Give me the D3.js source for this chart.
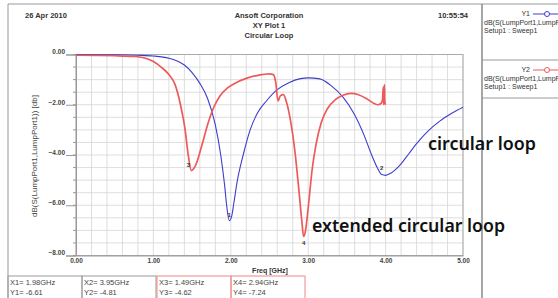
<!DOCTYPE html>
<html>
<head>
<meta charset="utf-8">
<script src="https://cdnjs.cloudflare.com/ajax/libs/d3/7.8.5/d3.min.js"></script>
<style>
  body { margin: 0; background: #fff; }
  svg { display: block; font-family: "Liberation Sans", Arial, sans-serif; }
</style>
</head>
<body>
<div id="chart"></div>
<script>
// S11 curves
var freqY1 = [0.0, 0.5, 0.8, 1.0, 1.2, 1.3, 1.4, 1.5, 1.6, 1.7, 1.8, 1.87, 1.92, 1.95, 1.98, 2.01, 2.04, 2.08, 2.16, 2.25, 2.35, 2.46, 2.6, 2.75, 2.9, 3.0, 3.15, 3.3, 3.45, 3.6, 3.72, 3.82, 3.9, 3.95, 4.0, 4.06, 4.12, 4.2, 4.3, 4.4, 4.5, 4.6, 4.7, 4.85, 5.0];
var dbY1 = [0.0, -0.01, -0.03, -0.06, -0.15, -0.25, -0.42, -0.72, -1.15, -1.75, -2.8, -4.0, -5.2, -6.1, -6.61, -6.45, -5.9, -5.1, -4.0, -3.0, -2.3, -1.85, -1.4, -1.12, -0.96, -0.93, -0.97, -1.25, -1.7, -2.4, -3.2, -4.0, -4.55, -4.78, -4.81, -4.74, -4.6, -4.35, -3.95, -3.55, -3.2, -2.9, -2.65, -2.35, -2.1];

var freqY2 = [0.0, 0.5, 0.75, 0.9, 1.0, 1.1, 1.2, 1.28, 1.35, 1.41, 1.45, 1.49, 1.52, 1.56, 1.6, 1.65, 1.7, 1.78, 1.86, 1.95, 2.05, 2.2, 2.35, 2.5, 2.55, 2.58, 2.61, 2.64, 2.68, 2.72, 2.77, 2.83, 2.88, 2.92, 2.94, 2.96, 3.0, 3.05, 3.1, 3.17, 3.25, 3.35, 3.45, 3.55, 3.65, 3.75, 3.85, 3.9, 3.94, 3.96, 3.97, 3.975, 3.985, 3.99, 4.0];
var dbY2 = [-0.03, -0.05, -0.08, -0.15, -0.28, -0.5, -0.8, -1.2, -2.0, -3.0, -4.0, -4.62, -4.55, -4.3, -3.9, -3.35, -2.8, -2.1, -1.65, -1.35, -1.15, -0.95, -0.83, -0.77, -0.8, -1.1, -1.85, -1.65, -1.6, -1.9, -2.6, -3.9, -5.4, -6.7, -7.24, -7.1, -6.1, -4.6, -3.6, -2.7, -2.15, -1.8, -1.62, -1.55, -1.6, -1.75, -1.95, -2.0, -1.95, -1.8, -1.3, -2.0, -1.2, -1.9, -2.0];

var markerNames = ["1", "2", "3", "4"];
var markerFreq = [1.98, 3.95, 1.49, 2.94];
var markerDb = [-6.61, -4.81, -4.62, -7.24];

var xTicks = [0, 1, 2, 3, 4, 5];
var yTicks = [-8, -6, -4, -2, 0];

var legendNames = ["Y1", "Y2"];
var traceName = "dB(S(LumpPort1,LumpPort1))";
var sweepName = "Setup1 : Sweep1";

var W = 558, H = 298;
var blue = "#3d3dcc", red = "#ee5a5a";

var svg = d3.select("#chart").append("svg")
    .attr("width", W)
    .attr("height", H);

var x = d3.scaleLinear().domain([0, 5]).range([76, 463]);
var y = d3.scaleLinear().domain([-8, 0]).range([255.5, 54.5]);

// outer frame
svg.append("line").attr("x1", 8).attr("y1", 4).attr("x2", W).attr("y2", 4).attr("stroke", "#999");
svg.append("line").attr("x1", 8).attr("y1", 4).attr("x2", 8).attr("y2", H).attr("stroke", "#999");
svg.append("line").attr("x1", 482).attr("y1", 4).attr("x2", 482).attr("y2", H).attr("stroke", "#888").attr("stroke-width", 1.5);
svg.append("line").attr("x1", 482).attr("y1", 60).attr("x2", W).attr("y2", 60).attr("stroke", "#999");
svg.append("line").attr("x1", 482).attr("y1", 98).attr("x2", W).attr("y2", 98).attr("stroke", "#999");

// header
svg.append("text").attr("x", 25).attr("y", 18).attr("font-size", 7.5).attr("font-weight", "bold").attr("fill", "#333").text("26 Apr 2010");
svg.append("text").attr("x", 468).attr("y", 18).attr("text-anchor", "end").attr("font-size", 7.5).attr("font-weight", "bold").attr("fill", "#333").text("10:55:54");
["Ansoft Corporation", "XY Plot 1", "Circular Loop"].forEach(function(t, i) {
  svg.append("text").attr("x", 269).attr("y", 18 + i * 10).attr("text-anchor", "middle")
    .attr("font-size", 7.5).attr("font-weight", "bold").attr("fill", "#333").text(t);
});

// grid
var grid = svg.append("g").attr("stroke", "#d6d6d6").attr("stroke-width", 0.8);
grid.selectAll(".vg").data(d3.range(0, 5.01, 0.2)).enter().append("line")
    .attr("x1", function(d) { return x(d); }).attr("x2", function(d) { return x(d); })
    .attr("y1", y(0)).attr("y2", y(-8));
grid.selectAll(".hg").data(d3.range(-8, 0.01, 0.5)).enter().append("line")
    .attr("x1", x(0)).attr("x2", x(5))
    .attr("y1", function(d) { return y(d); }).attr("y2", function(d) { return y(d); });

svg.append("rect").attr("x", x(0)).attr("y", y(0))
    .attr("width", x(5) - x(0)).attr("height", y(-8) - y(0))
    .attr("fill", "none").attr("stroke", "#aaa");

// axes
var fmt = d3.format(".2f");
var yAxis = svg.append("g").attr("transform", "translate(" + x(0) + ",0)")
    .call(d3.axisLeft(y).tickValues(yTicks).tickFormat(fmt).tickSize(10).tickPadding(1));
var xAxis = svg.append("g").attr("transform", "translate(0," + y(-8) + ")")
    .call(d3.axisBottom(x).tickValues(xTicks).tickFormat(fmt).tickSize(0).tickPadding(3));
[yAxis, xAxis].forEach(function(a) {
  a.select(".domain").attr("stroke", "#999");
  a.selectAll(".tick line").attr("stroke", "#999");
  a.selectAll("text").attr("font-size", 6.5).attr("font-weight", "bold").attr("fill", "#444")
    .attr("font-family", "Liberation Sans, Arial, sans-serif");
});
yAxis.selectAll(".tick text").attr("dy", "-0.1em");
// minor y ticks
svg.selectAll(".ym").data(d3.range(-8, 0.01, 0.5)).enter().append("line")
    .attr("x1", x(0) - 3).attr("x2", x(0))
    .attr("y1", function(d) { return y(d); }).attr("y2", function(d) { return y(d); })
    .attr("stroke", "#999");

svg.append("text").attr("x", 270).attr("y", 273).attr("text-anchor", "middle")
    .attr("font-size", 7).attr("font-weight", "bold").attr("fill", "#333").text("Freq [GHz]");
svg.append("text").attr("transform", "translate(37,156) rotate(-90)").attr("text-anchor", "middle")
    .attr("font-size", 8).attr("fill", "#444").text(traceName + " [db]");

// curves
var line = d3.line()
    .x(function(d) { return x(d[0]); })
    .y(function(d) { return y(d[1]); })
    .curve(d3.curveMonotoneX);

svg.append("path")
    .datum(d3.zip(freqY1, dbY1))
    .attr("fill", "none").attr("stroke", blue).attr("stroke-width", 1.1)
    .attr("d", line);
svg.append("path")
    .datum(d3.zip(freqY2, dbY2))
    .attr("fill", "none").attr("stroke", red).attr("stroke-width", 1.7)
    .attr("d", line);

// marker labels
var markerDy = [-4, -5, -4, 9];
var markerDx = [0, 0, -3, 0];
svg.selectAll(".mk").data(markerNames).enter().append("text")
    .attr("x", function(d, i) { return x(markerFreq[i]) + markerDx[i]; })
    .attr("y", function(d, i) { return y(markerDb[i]) + markerDy[i]; })
    .attr("text-anchor", "middle").attr("font-size", 6).attr("font-weight", "bold").attr("fill", "#333")
    .text(function(d) { return d; });

// annotations
svg.append("text").attr("x", 428).attr("y", 150)
    .attr("font-family", "Noto Sans, sans-serif").attr("font-size", 18).attr("font-weight", 600)
    .attr("textLength", 108).attr("lengthAdjust", "spacingAndGlyphs")
    .attr("fill", "#111").text("circular loop");
svg.append("text").attr("x", 312).attr("y", 232)
    .attr("font-family", "Noto Sans, sans-serif").attr("font-size", 18).attr("font-weight", 600)
    .attr("textLength", 193).attr("lengthAdjust", "spacingAndGlyphs")
    .attr("fill", "#111").text("extended circular loop");

// legend panel
var legColors = [blue, red];
legendNames.forEach(function(n, i) {
  var top = 4 + i * 56;
  svg.append("text").attr("x", 530).attr("y", top + 12).attr("text-anchor", "end")
    .attr("font-size", 7).attr("fill", "#333").text(n);
  svg.append("line").attr("x1", 533).attr("x2", W).attr("y1", top + 10).attr("y2", top + 10)
    .attr("stroke", legColors[i]).attr("stroke-width", 1);
  svg.append("circle").attr("cx", 547).attr("cy", top + 10).attr("r", 2.5)
    .attr("fill", "#fff").attr("stroke", legColors[i]);
  svg.append("text").attr("x", 484).attr("y", top + 21)
    .attr("font-size", 7).attr("fill", "#333").text(traceName);
  svg.append("text").attr("x", 484).attr("y", top + 29)
    .attr("font-size", 7).attr("fill", "#333").text(sweepName);
});

// marker table
var boxX = [8, 82, 157, 231];
var boxStroke = ["#999", "#999", "#e88", "#e88"];
markerNames.forEach(function(n, i) {
  svg.append("rect").attr("x", boxX[i]).attr("y", 276).attr("width", 74).attr("height", 30)
    .attr("fill", "none").attr("stroke", boxStroke[i]);
  svg.append("text").attr("x", boxX[i] + 2).attr("y", 285).attr("font-size", 7.5).attr("fill", "#444")
    .text("X" + n + "= " + markerFreq[i].toFixed(2) + "GHz");
  svg.append("text").attr("x", boxX[i] + 2).attr("y", 295).attr("font-size", 7.5).attr("fill", "#444")
    .text("Y" + n + "= " + markerDb[i].toFixed(2));
});
</script>
</body>
</html>
